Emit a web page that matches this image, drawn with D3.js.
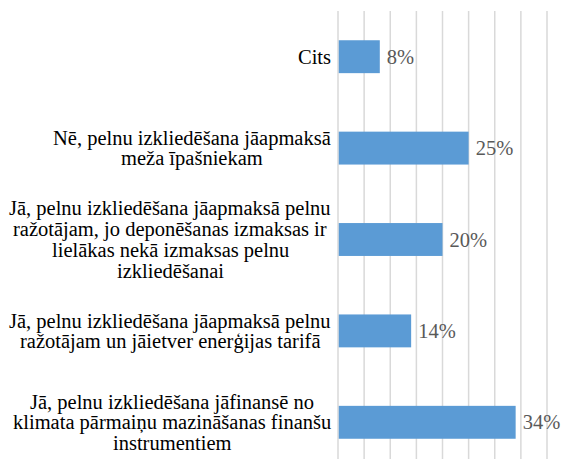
<!DOCTYPE html>
<html>
<head>
<meta charset="utf-8">
<script src="https://cdn.jsdelivr.net/npm/d3@7"></script>
<style>
  html, body { margin: 0; padding: 0; background: #fff; }
  svg { display: block; }
  svg text { font-family: "Liberation Serif", "Times New Roman", serif; }
</style>
</head>
<body>
<svg id="chart" width="563" height="459"></svg>
<script>
const categories = [
  ["Cits"],
  ["Nē, pelnu izkliedēšana jāapmaksā", "meža īpašniekam"],
  ["Jā, pelnu izkliedēšana jāapmaksā pelnu", "ražotājam, jo deponēšanas izmaksas ir", "lielākas nekā izmaksas pelnu", "izkliedēšanai"],
  ["Jā, pelnu izkliedēšana jāapmaksā pelnu", "ražotājam un jāietver enerģijas tarifā"],
  ["Jā, pelnu izkliedēšana jāfinansē no", "klimata pārmaiņu mazināšanas finanšu", "instrumentiem"]
];
const values = [8, 25, 20, 14, 34];
const gridTicks = [0, 5, 10, 15, 20, 25, 30, 35, 40];

(function () {
const svg = d3.select("#chart");
const H = 459;
const mLeft = 338, mRight = 547, mTop = 11, mBottom = 468;
const fontSize = 20.5;

const x = d3.scaleLinear().domain([0, 40]).range([mLeft, mRight]);
const y = d3.scaleBand().domain(d3.range(categories.length)).range([mTop, mBottom])
  .paddingInner(0.64).paddingOuter(0.32);

// gridlines
svg.append("g").selectAll("line").data(gridTicks).join("line")
  .attr("x1", d => x(d)).attr("x2", d => x(d))
  .attr("y1", mTop).attr("y2", H)
  .attr("stroke", "#d9d9d9").attr("stroke-width", 1.5);

// bars
svg.append("g").selectAll("rect").data(values).join("rect")
  .attr("x", x(0) + 0.75)
  .attr("y", (d, i) => y(i))
  .attr("width", d => x(d) - x(0) - 0.75)
  .attr("height", y.bandwidth())
  .attr("fill", "#5b9bd5");

// value labels
svg.append("g").selectAll("text").data(values).join("text")
  .attr("x", d => x(d) + 7)
  .attr("y", (d, i) => y(i) + y.bandwidth() / 2)
  .attr("dy", "0.35em")
  .attr("font-size", fontSize)
  .attr("fill", "#595959")
  .text(d => d + "%");

// category labels
const lineH = 20.7;
const labelRight = 331;
const lg = svg.append("g");
categories.forEach((lines, i) => {
  const cy = y(i) + y.bandwidth() / 2;
  const texts = lines.map((ln, j) => lg.append("text")
    .attr("y", Math.round(cy + (j - (lines.length - 1) / 2) * lineH + 7))
    .attr("font-size", fontSize)
    .attr("fill", "#000")
    .text(ln));
  const widths = texts.map(t => t.node().getComputedTextLength());
  const maxW = d3.max(widths);
  texts.forEach((t, j) => t.attr("x", Math.round(labelRight - maxW / 2 - widths[j] / 2)));
});
})();
</script>
</body>
</html>
